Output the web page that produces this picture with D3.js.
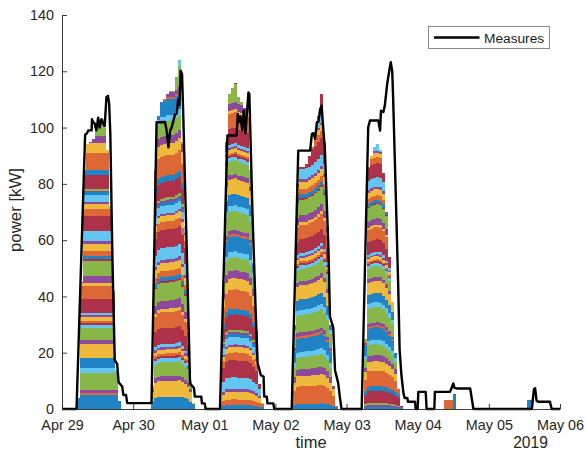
<!DOCTYPE html>
<html>
<head>
<meta charset="utf-8">
<script src="https://cdn.jsdelivr.net/npm/d3@7"></script>
<style>
  html, body { margin: 0; padding: 0; background: #fff; }
  svg { display: block; }
  text { font-family: "Liberation Sans", Arial, Helvetica, sans-serif; }
</style>
</head>
<body>
<svg id="chart" width="586" height="454"></svg>
<script>
// ---------------- data ----------------
const startDate = new Date(2019, 3, 29);           // Apr 29 2019 00:00
const endDate = new Date(2019, 4, 6);              // May 06 2019 00:00
const yTicks = [0, 20, 40, 60, 80, 100, 120, 140];
const xTickFormat = "%b %d";
const xLabel = "time";
const yLabel = "power [kW]";
const yearLabel = "2019";
const legendLabel = "Measures";

// MATLAB default colour order for the stacked components
const colorOrder = ["#0072BD", "#D95319", "#EDB120", "#7E2F8E", "#77AC30", "#4DBEEE", "#A2142F"];

// hourly total of the stacked components (kW), one row per day (Apr 29 .. May 05)
const stackTotals = [
  0,0,0,0,0,4,45,85,94,95,96,100,102,103,100,92,72,42,14,3,0,0,0,0,
  0,0,0,0,0,0,8,85,104,109,110,112,113,113,118,124,95,65,35,10,2,0,0,0,
  0,0,0,0,0,3,45,95,112,114,116,111,109,107,104,85,52,28,9,2,0,0,0,0,
  0,0,0,0,0,0,30,80,86,86,87,90,93,98,104,112,95,65,30,8,1,0,0,0,
  0,0,0,0,0,0,25,86,90,93,94,92,84,70,54,38,20,7,1,0,0,0,0,0,
  0,0,0,0,0,0,0,0,0,0,0,0,0,0,0,0,0,0,0,0,0,0,0,0,
  0,0,0,0,0,0,0,0,0,0,0,0,0,0,0,0,0,0,0,0,0,0,0,0
];

// relative size of each stacked component (colours cycle through colorOrder)
const componentShares = [
  4, 0.6, 0, 1, 5, 1.5, 0,
  3, 0, 4, 1.2, 3.5, 1, 0.6,
  0, 0.6, 1, 0.6, 0, 0.8, 4,
  0, 4, 0.8, 2, 4.5, 0, 0.5,
  1, 1.5, 2, 0.8, 0, 3, 4.5,
  0, 2, 1.5, 0.6, 0, 2, 0,
  0.8, 0, 0, 0.5, 0.6, 0, 4,
  1.5, 5, 3, 2, 3.5, 1.5, 0
];
// rotation of the component list for each day
const dayShift = [0, 7, 28, 49, 42, 0, 0];
// how strongly component sizes follow the hourly level on each day (0 = fixed bands)
const dayResponse = [0, 0.2, 0.18, 0.22, 0.2, 0, 0];

// isolated small bars after the production days
const tailHours = [129, 130, 131, 132, 157, 158];
const tailComponent = [1, 1, 1, 0, 0, 0];
const tailValues = [3.2, 3.2, 3.2, 5.2, 3.2, 3.2];

// measured power: time in hours since Apr 29 00:00, value in kW
const measureHours = [
  0, 4.9, 7.8, 8.3, 8.9, 10, 10.1, 10.5, 11, 11.6, 12.2, 12.7, 13.3, 13.9, 14.4, 15, 15.5, 15.9, 16.3, 17, 17.8, 18.6, 19.1, 20.3, 20.7, 21.6, 22, 30.2,
  31.9, 34.75, 35.3, 35.9, 36.5, 37, 38.1, 38.7, 39.2, 39.6, 40.04, 40.5, 40.9, 42.1, 43.2, 44.5, 44.8, 47.0, 47.2, 48.1, 48.5,
  53.3, 55.8, 58.9, 59.3, 59.7, 60.2, 60.8, 61.3, 61.9, 62.3, 62.9, 63.2, 63.7, 64.3, 65.4, 66, 67.1, 68, 68.2, 69.1, 69.3, 71.3, 71.6,
  77.5, 79.7, 83.7, 84.3, 84.8, 85.4, 86, 86.5, 87.1, 87.6, 87.9, 88.7, 89.3, 89.9, 90.4, 91.5, 92.1, 93.2, 93.7, 94.3,
  101.1, 103.3, 103.9, 106.7, 107.3, 107.6, 108.4, 108.9, 109.7, 110.4, 110.9, 111.4, 111.7, 112.5, 113.4, 113.9, 114.5, 115.2, 115.6, 116.5, 116.7, 119.1, 119.3,
  120, 120.2, 122.7, 123, 125.6, 125.8, 130.9, 131.6, 132, 132.4, 133.2, 137.7, 138.8,
  158.5, 159.2, 159.6, 160.1, 160.6, 164.6, 165.2, 168
];
const measureKW = [
  0, 0, 97.5, 97.8, 99, 99, 103, 102, 101.5, 99, 103.5, 100, 103, 101.5, 100.5, 110.8, 111.3, 108.5, 97.8, 54, 17.4, 16, 9.5, 8, 5, 5, 2.1, 2.1,
  101.9, 102, 99, 93, 99, 100, 104.6, 105, 110, 108, 120.2, 119, 104.6, 56, 9, 7.5, 4.4, 4.4, 2, 2, 0,
  0, 97.2, 97.2, 104.8, 102, 104, 99, 106, 98, 104, 112.5, 112, 91.8, 68.2, 32.7, 16.2, 12, 11.5, 4.4, 4.4, 2, 2, 0,
  0, 91.8, 91.8, 97.8, 98, 96, 101.9, 102, 106.6, 107.8, 103, 91.8, 74, 56.4, 32.7, 29, 13.8, 9.1, 4.4, 0,
  0, 100.1, 102.5, 102.5, 98.9, 106, 105.5, 107.8, 115.5, 120.2, 123.2, 120, 110.8, 80, 44.6, 21, 12, 5.5, 3.9, 3.9, 2.6, 2.6, 0,
  0, 6.1, 6.1, 0, 0, 6.1, 6.1, 7.9, 9.1, 7.5, 7.3, 7.3, 0,
  0, 7, 7.4, 3, 2.6, 2.6, 0, 0
];

// ---------------- drawing ----------------
const svg = d3.select("#chart");
const axisColor = "#262626";
const hourToDate = h => new Date(startDate.getTime() + h * 3600000);

const x = d3.scaleTime().domain([startDate, endDate]).range([62, 560]);
const y = d3.scaleLinear().domain([0, 140]).range([409, 15]);

// build the stacked table: components stacked bottom-up until the hourly total is reached
const nComp = componentShares.length;
const shareSum = d3.sum(componentShares);
const keys = d3.range(nComp).map(i => "c" + i);
const dayMax = d3.range(7).map(d => d3.max(stackTotals.slice(d * 24, d * 24 + 24)));
const rows = stackTotals.map((total, h) => {
  const row = { hour: h };
  const day = Math.floor(h / 24);
  const shift = dayShift[day];
  const scale = dayMax[day] > 0 ? Math.pow(total / dayMax[day], dayResponse[day]) : 0;
  let remaining = total;
  keys.forEach((k, i) => {
    const size = componentShares[(i + shift) % nComp] / shareSum * dayMax[day] * scale;
    const v = Math.max(0, Math.min(remaining, size));
    row[k] = v;
    remaining -= v;
  });
  return row;
});
tailHours.forEach((h, j) => { rows[h]["c" + tailComponent[j]] = tailValues[j]; });

const series = d3.stack().keys(keys)(rows);

const barsG = svg.append("g").attr("shape-rendering", "crispEdges");
series.forEach((s, i) => {
  barsG.append("g")
    .attr("fill", colorOrder[i % colorOrder.length])
    .attr("fill-opacity", 0.88)
    .selectAll("rect")
    .data(s.filter(d => d[1] - d[0] > 1e-6))
    .join("rect")
      .attr("x", d => x(hourToDate(d.data.hour)))
      .attr("width", d => x(hourToDate(d.data.hour + 1)) - x(hourToDate(d.data.hour)))
      .attr("y", d => y(d[1]))
      .attr("height", d => y(d[0]) - y(d[1]));
});

// measured line
const measures = measureHours.map((h, i) => ({ t: hourToDate(h), v: measureKW[i] }));
svg.append("path")
  .datum(measures)
  .attr("fill", "none")
  .attr("stroke", "#000")
  .attr("stroke-width", 2.4)
  .attr("stroke-linejoin", "round")
  .attr("d", d3.line().x(d => x(d.t)).y(d => y(d.v)));

// axes
const xAxis = d3.axisBottom(x)
  .ticks(d3.timeDay.every(1))
  .tickFormat(d3.timeFormat(xTickFormat))
  .tickSizeInner(-5).tickSizeOuter(0).tickPadding(11);
const gx = svg.append("g").attr("transform", "translate(0,409)").call(xAxis);

const yAxis = d3.axisLeft(y)
  .tickValues(yTicks)
  .tickSizeInner(-5).tickSizeOuter(0).tickPadding(8);
const gy = svg.append("g").attr("transform", "translate(62,0)").call(yAxis);

[gx, gy].forEach(g => {
  g.select(".domain").attr("stroke", axisColor).attr("stroke-width", 0.9);
  g.selectAll(".tick line").attr("stroke", axisColor).attr("stroke-width", 0.9);
  g.selectAll(".tick text")
    .attr("fill", axisColor)
    .style("font-size", "14.4px")
    .style("font-family", "'Liberation Sans', Arial, Helvetica, sans-serif");
});

// labels
svg.append("text")
  .attr("x", (x.range()[0] + x.range()[1]) / 2)
  .attr("y", 448)
  .attr("text-anchor", "middle")
  .attr("fill", axisColor)
  .style("font-size", "16.5px")
  .text(xLabel);

svg.append("text")
  .attr("x", 530.5)
  .attr("y", 448)
  .attr("text-anchor", "middle")
  .attr("fill", axisColor)
  .style("font-size", "15.6px")
  .text(yearLabel);

svg.append("text")
  .attr("transform", "translate(21,210) rotate(-90)")
  .attr("text-anchor", "middle")
  .attr("fill", axisColor)
  .style("font-size", "16.8px")
  .text(yLabel);

// legend
const lg = svg.append("g");
lg.append("rect")
  .attr("x", 428.5).attr("y", 26.5).attr("width", 121).attr("height", 22)
  .attr("fill", "#fff").attr("stroke", "#8a8a8a").attr("stroke-width", 1);
lg.append("line")
  .attr("x1", 434).attr("x2", 479.5).attr("y1", 37.5).attr("y2", 37.5)
  .attr("stroke", "#000").attr("stroke-width", 2.4);
lg.append("text")
  .attr("x", 484).attr("y", 43)
  .attr("fill", "#1a1a1a")
  .style("font-size", "13.7px")
  .text(legendLabel);
</script>
</body>
</html>
